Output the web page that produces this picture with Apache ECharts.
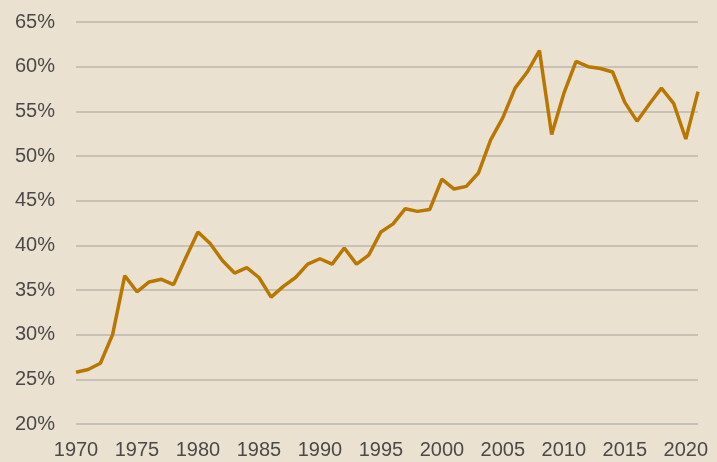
<!DOCTYPE html>
<html>
<head>
<meta charset="utf-8">
<script src="https://cdn.jsdelivr.net/npm/echarts@6/dist/echarts.min.js"></script>
<style>
  html,body{margin:0;padding:0;background:#ebe1d0;}
  #chart{width:717px;height:462px;}
</style>
</head>
<body>
<div id="chart"></div>
<script>
const years = [];
for (let y = 1970; y <= 2021; y++) years.push(String(y));

const share = [
  25.8, 26.1, 26.8, 30.0, 36.6, 34.8, 35.9, 36.2, 35.6, 38.6,
  41.5, 40.2, 38.3, 36.9, 37.5, 36.4, 34.2, 35.4, 36.4, 37.9,
  38.5, 37.9, 39.7, 37.9, 38.9, 41.5, 42.4, 44.1, 43.8, 44.0,
  47.4, 46.3, 46.6, 48.1, 51.8, 54.3, 57.6, 59.4, 61.8, 52.4,
  57.0, 60.6, 60.0, 59.8, 59.4, 56.0, 53.9, 55.8, 57.6, 55.9,
  51.9, 57.2
];

const yTicks = {min: 20, max: 65, step: 5};

const c = echarts.init(document.getElementById('chart'));
c.setOption({
  backgroundColor: '#ebe1d0',
  animation: false,
  grid: {left: 76, right: 19, top: 22, bottom: 38},
  xAxis: {
    type: 'category', data: years, boundaryGap: false,
    axisLine: {show: false}, axisTick: {show: false},
    axisLabel: {interval: 4, color: '#4a4a4a', fontSize: 20, fontFamily: 'Liberation Sans', margin: 16},
    splitLine: {show: false}
  },
  yAxis: {
    type: 'value', min: yTicks.min, max: yTicks.max, interval: yTicks.step,
    axisLine: {show: false}, axisTick: {show: false},
    axisLabel: {formatter: v => v + '%', color: '#4a4a4a', fontSize: 20, fontFamily: 'Liberation Sans', margin: 21},
    splitLine: {lineStyle: {color: '#bdb7ae', width: 1.5}}
  },
  series: [{
    type: 'line', data: share, symbol: 'none',
    lineStyle: {color: '#b87700', width: 3.5}
  }]
});
</script>
</body>
</html>
